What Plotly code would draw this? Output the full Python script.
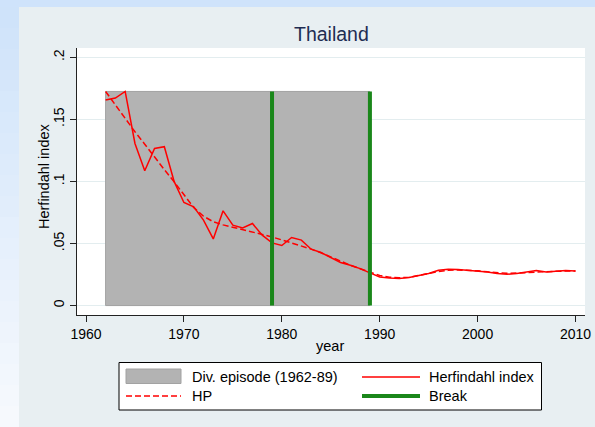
import plotly.graph_objects as go

# ---------------- data ----------------
years = list(range(1962, 2011))
herfindahl = [
    0.1656, 0.1672, 0.1725, 0.1306, 0.1086, 0.1266, 0.1280, 0.1000, 0.0830, 0.0795,
    0.0688, 0.0537, 0.0763, 0.0648, 0.0626, 0.0661, 0.0567, 0.0505, 0.0484, 0.0548,
    0.0527, 0.0454, 0.0427, 0.0384, 0.0347, 0.0325, 0.0298, 0.0263, 0.0231, 0.0223,
    0.0218, 0.0226, 0.0244, 0.0258, 0.0285, 0.0293, 0.0290, 0.0285, 0.0279, 0.0271,
    0.0258, 0.0252, 0.0258, 0.0271, 0.0282, 0.0271, 0.0276, 0.0282, 0.0279,
]
hp_trend = [
    0.1725, 0.1615, 0.1510, 0.1400, 0.1300, 0.1195, 0.1095, 0.0997, 0.0890, 0.0790,
    0.0720, 0.0675, 0.0650, 0.0632, 0.0612, 0.0594, 0.0573, 0.0553, 0.0530, 0.0505,
    0.0482, 0.0455, 0.0425, 0.0390, 0.0355, 0.0325, 0.0297, 0.0268, 0.0243, 0.0229,
    0.0224, 0.0228, 0.0241, 0.0258, 0.0274, 0.0284, 0.0287, 0.0285, 0.0280, 0.0272,
    0.0265, 0.0260, 0.0262, 0.0267, 0.0272, 0.0274, 0.0276, 0.0278, 0.0279,
]
episode = [1962, 1989]
breaks = [1979, 1989]
x_ticks = [1960, 1970, 1980, 1990, 2000, 2010]
y_ticks = [0, 0.05, 0.1, 0.15, 0.2]
y_tick_labels = ["0", ".05", ".1", ".15", ".2"]

# ---------------- style ----------------
W, H = 595, 427
L, R, T, B = 77, 10, 48, 112
PW, PH = W - L - R, H - T - B
FONT = "Liberation Sans, Arial, Helvetica, sans-serif"
RED = "#ff0000"
GREEN = "#1a871a"
GRAY = "#b3b3b3"
PANEL = "#e8eff2"

def px(x):
    return (x - L) / PW

def py(y):
    return (H - B - y) / PH

top = max(herfindahl)

fig = go.Figure()

# shaded diversification episode
fig.add_trace(go.Scatter(
    x=[episode[0], episode[0], episode[1], episode[1], episode[0]],
    y=[0, top, top, 0, 0],
    fill="toself", fillcolor=GRAY, mode="lines",
    line=dict(color="#a2a2a2", width=1),
    name="Div. episode (1962-89)", showlegend=False, hoverinfo="skip",
))

# HP trend
fig.add_trace(go.Scatter(
    x=years, y=hp_trend, mode="lines",
    line=dict(color=RED, width=1.5, dash="6px,3px"),
    name="HP", showlegend=False,
))

# Herfindahl index
fig.add_trace(go.Scatter(
    x=years, y=herfindahl, mode="lines",
    line=dict(color=RED, width=1.5),
    name="Herfindahl index", showlegend=False,
))

# breaks
for b in breaks:
    fig.add_trace(go.Scatter(
        x=[b, b], y=[0, top], mode="lines",
        line=dict(color=GREEN, width=4),
        name="Break", showlegend=False,
    ))

shapes = []
# outer blue frame: top strip and left gradient strip
shapes.append(dict(type="rect", xref="paper", yref="paper",
                   x0=px(0), x1=px(W), y0=py(7), y1=py(0),
                   fillcolor="#cfe3fb", line=dict(width=0), layer="below"))
n = 20
c0 = (207, 227, 250)
c1 = (246, 249, 253)
for i in range(n):
    f = i / (n - 1)
    col = tuple(int(round(c0[k] + (c1[k] - c0[k]) * f)) for k in range(3))
    y0p = 7 + (H - 7) * i / n
    y1p = 7 + (H - 7) * (i + 1) / n
    shapes.append(dict(type="rect", xref="paper", yref="paper",
                       x0=px(0), x1=px(19), y0=py(y1p), y1=py(y0p),
                       fillcolor="rgb(%d,%d,%d)" % col, line=dict(width=0),
                       layer="below"))

# legend box
shapes.append(dict(type="rect", xref="paper", yref="paper",
                   x0=px(119), x1=px(541.5), y0=py(410), y1=py(362.5),
                   fillcolor="white", line=dict(color="black", width=1)))
shapes.append(dict(type="rect", xref="paper", yref="paper",
                   x0=px(126), x1=px(181), y0=py(383.5), y1=py(369),
                   fillcolor=GRAY, line=dict(color="#a2a2a2", width=1)))
shapes.append(dict(type="line", xref="paper", yref="paper",
                   x0=px(126), x1=px(181), y0=py(396), y1=py(396),
                   line=dict(color=RED, width=1.5, dash="6px,3px")))
shapes.append(dict(type="line", xref="paper", yref="paper",
                   x0=px(362), x1=px(420), y0=py(377), y1=py(377),
                   line=dict(color=RED, width=1.5)))
shapes.append(dict(type="line", xref="paper", yref="paper",
                   x0=px(362), x1=px(420), y0=py(396), y1=py(396),
                   line=dict(color=GREEN, width=4)))

annotations = []
for txt, xx, yy in [("Div. episode (1962-89)", 190, 377), ("HP", 190, 396),
                    ("Herfindahl index", 427, 377), ("Break", 427, 396)]:
    annotations.append(dict(text=txt, xref="paper", yref="paper",
                            x=px(xx), y=py(yy), xanchor="left", yanchor="middle",
                            showarrow=False, font=dict(size=14.5, color="black", family=FONT)))
# axis titles
annotations.append(dict(text="year", xref="paper", yref="paper",
                        x=px(330), y=py(346), xanchor="center", yanchor="middle",
                        showarrow=False, font=dict(size=14.5, color="black", family=FONT)))
annotations.append(dict(text="Herfindahl index", xref="paper", yref="paper",
                        x=px(44), y=py(176), xanchor="center", yanchor="middle",
                        textangle=-90, showarrow=False,
                        font=dict(size=14.5, color="black", family=FONT)))
# title
annotations.append(dict(text="Thailand", xref="paper", yref="paper",
                        x=px(331), y=py(34), xanchor="center", yanchor="middle",
                        showarrow=False, font=dict(size=19.5, color="#1e2d52", family=FONT)))

fig.update_layout(
    width=W, height=H,
    margin=dict(l=L, r=R, t=T, b=B, autoexpand=False),
    paper_bgcolor=PANEL, plot_bgcolor="white",
    font=dict(family=FONT, color="black", size=14),
    showlegend=False,
    shapes=shapes, annotations=annotations,
    xaxis=dict(
        range=[1959.08, 2010.97], tickvals=x_ticks, showgrid=False, zeroline=False,
        automargin=False,
        showline=True, linecolor="#222222", linewidth=1,
        ticks="outside", ticklen=6, tickcolor="#222222", tickwidth=1,
        tickfont=dict(size=14, color="black", family=FONT),
    ),
    yaxis=dict(
        range=[-0.0076, 0.2075], tickvals=y_ticks, ticktext=y_tick_labels,
        automargin=False,
        tickangle=-90, showgrid=True, gridcolor="#e3edef", gridwidth=1,
        zeroline=False, showline=True, linecolor="#222222", linewidth=1,
        ticks="outside", ticklen=6, tickcolor="#222222", tickwidth=1,
        tickfont=dict(size=14, color="black", family=FONT),
    ),
)

fig.write_html(
    "out.html",
    config={"displayModeBar": False},
    post_script="document.body.style.margin='0';document.body.style.overflow='hidden';",
)
